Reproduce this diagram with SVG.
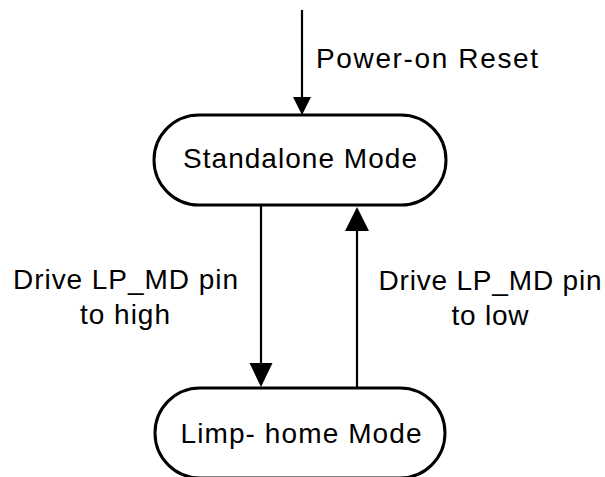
<svg xmlns="http://www.w3.org/2000/svg" width="605" height="477" viewBox="0 0 605 477">
<style>
.node{fill:#fff;stroke:#000;stroke-width:3}
.lbl{font-family:"Liberation Sans",Arial,sans-serif;font-size:28px;fill:#000}
.c{text-anchor:middle}
.edge{stroke:#000;stroke-width:2.2;fill:none}
.head{fill:#000;stroke:none}
</style>
<rect width="605" height="477" fill="#fff"/>
<g id="connectors">
  <line class="edge" x1="302" y1="10" x2="302" y2="98"/>
  <polygon class="head" points="293,97 311,97 302,115"/>
  <text class="lbl" x="316" y="68" textLength="222" lengthAdjust="spacing">Power-on Reset</text>
  <line class="edge" x1="261" y1="205" x2="261" y2="365"/>
  <polygon class="head" points="249.5,363 272.5,363 261,387"/>
  <text class="lbl c" x="125.5" y="289" textLength="225" lengthAdjust="spacing">Drive LP_MD pin</text>
  <text class="lbl c" x="125" y="324" textLength="90" lengthAdjust="spacing">to high</text>
  <line class="edge" x1="357" y1="388" x2="357" y2="228"/>
  <polygon class="head" points="345,231 369,231 357,207"/>
  <text class="lbl c" x="490" y="290" textLength="223" lengthAdjust="spacing">Drive LP_MD pin</text>
  <text class="lbl c" x="490" y="325" textLength="77" lengthAdjust="spacing">to low</text>
</g>
<g id="standalone">
  <rect class="node" x="154" y="115" width="292" height="90" rx="45" ry="45"/>
  <text class="lbl c" x="300" y="168" textLength="234" lengthAdjust="spacing">Standalone Mode</text>
</g>
<g id="limphome">
  <rect class="node" x="155" y="388" width="290" height="90" rx="45" ry="45"/>
  <text class="lbl c" x="301" y="443" textLength="241" lengthAdjust="spacing">Limp- home Mode</text>
</g>
</svg>
